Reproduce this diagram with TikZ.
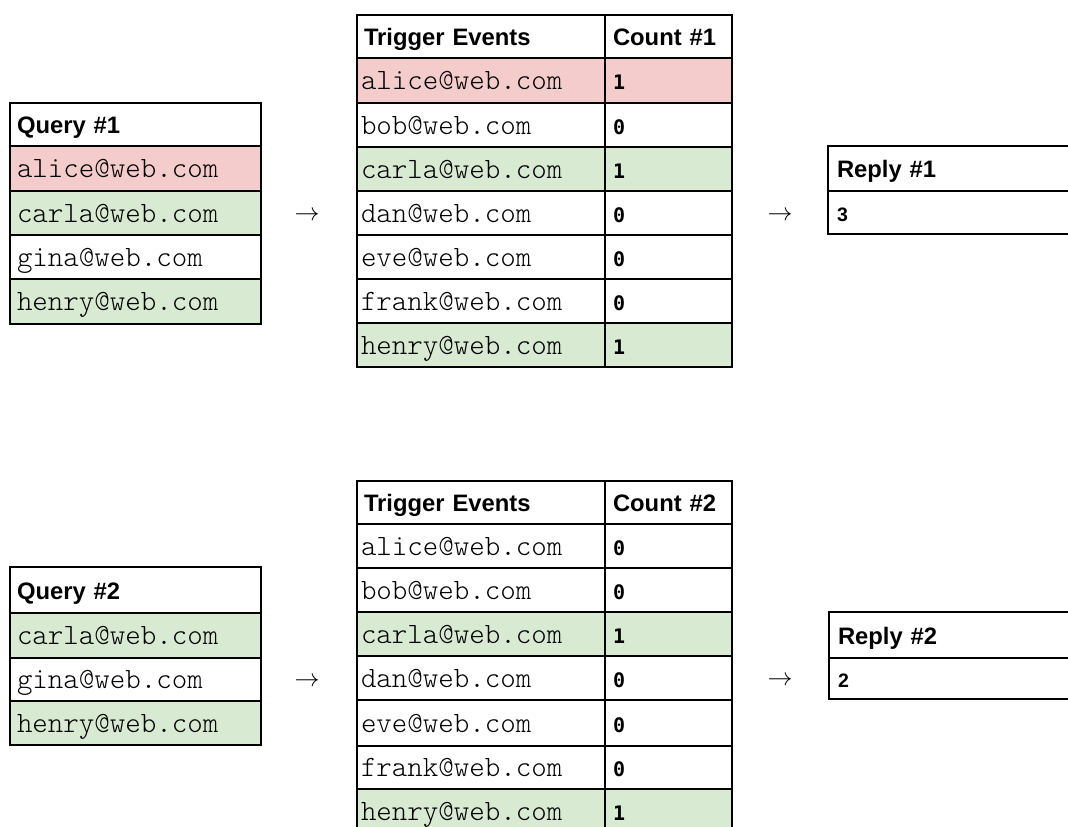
\documentclass[tikz,border=0pt]{standalone}
\usepackage{fontspec}
\newfontfamily\arialf{Liberation Sans}
\newfontfamily\cntf{DejaVu Sans Mono}
\newfontfamily\mailf{lmmonolt10-regular.otf}
\definecolor{redc}{HTML}{F4CCCC}
\definecolor{grnc}{HTML}{D9EAD3}
\tikzset{
 cell/.style={draw=black, line width=2pt, rectangle, anchor=north west, inner ysep=0pt, align=left, text height=24pt, text depth=6pt, fill=white},
 hdr/.style={font=\arialf\bfseries\fontsize{23.8}{24}\selectfont},
 mail/.style={font=\mailf\fontsize{29.5}{30}\selectfont},
 cnt/.style={font=\cntf\bfseries\fontsize{20}{20}\selectfont},
 rep/.style={font=\arialf\bfseries\fontsize{19.5}{20}\selectfont},
 qcol/.style={inner xsep=7pt, text width=237pt},
 tcolA/.style={inner xsep=4pt, text width=240pt},
 thA/.style={inner xsep=7pt, text width=234pt},
 tcolB/.style={inner xsep=8pt, text width=111pt},
 rcol/.style={inner xsep=9pt, text width=242pt},
 arr/.style={font=\fontsize{28}{28}\selectfont, inner sep=0pt},
}
\begin{document}
\begin{tikzpicture}[x=1pt,y=-1pt]
\useasboundingbox (0,0) rectangle (1068,827);
\clip (0,0) rectangle (1068,827);
% ---------- Query 1
\node[cell,qcol,hdr,minimum height=43pt] (q1h) at (9,102) {Query \#1};
\node[cell,qcol,mail,minimum height=45pt,fill=redc] (q1a) at (9,145) {alice@web.com};
\node[cell,qcol,mail,minimum height=44pt,fill=grnc] (q1c) at (9,190) {carla@web.com};
\node[cell,qcol,mail,minimum height=44pt] (q1g) at (9,234) {gina@web.com};
\node[cell,qcol,mail,minimum height=45pt,fill=grnc] (q1n) at (9,278) {henry@web.com};
% ---------- Trigger table 1
\node[cell,thA,hdr,minimum height=43pt] (t1h) at (356,14) {Trigger Events};
\node[cell,tcolB,hdr,minimum height=43pt] (c1h) at (604,14) {Count \#1};
\node[cell,tcolA,mail,minimum height=45pt,fill=redc] (t1a) at (356,57) {alice@web.com};
\node[cell,tcolB,cnt,minimum height=45pt,fill=redc] (c1a) at (604,57) {1};
\node[cell,tcolA,mail,minimum height=44pt] (t1b) at (356,102) {bob@web.com};
\node[cell,tcolB,cnt,minimum height=44pt] (c1b) at (604,102) {0};
\node[cell,tcolA,mail,minimum height=44pt,fill=grnc] (t1c) at (356,146) {carla@web.com};
\node[cell,tcolB,cnt,minimum height=44pt,fill=grnc] (c1c) at (604,146) {1};
\node[cell,tcolA,mail,minimum height=44pt] (t1d) at (356,190) {dan@web.com};
\node[cell,tcolB,cnt,minimum height=44pt] (c1d) at (604,190) {0};
\node[cell,tcolA,mail,minimum height=44pt] (t1e) at (356,234) {eve@web.com};
\node[cell,tcolB,cnt,minimum height=44pt] (c1e) at (604,234) {0};
\node[cell,tcolA,mail,minimum height=44pt] (t1f) at (356,278) {frank@web.com};
\node[cell,tcolB,cnt,minimum height=44pt] (c1f) at (604,278) {0};
\node[cell,tcolA,mail,minimum height=44pt,fill=grnc] (t1n) at (356,322) {henry@web.com};
\node[cell,tcolB,cnt,minimum height=44pt,fill=grnc] (c1n) at (604,322) {1};
% ---------- Reply 1
\node[cell,rcol,hdr,minimum height=45pt] (r1h) at (827,145) {Reply \#1};
\node[cell,rcol,rep,minimum height=43pt] (r1v) at (827,190) {3};
% ---------- arrows 1
\node[arr] (a1) at (307,216) {$\rightarrow$};
\node[arr] (b1) at (780,216) {$\rightarrow$};
% ---------- Query 2
\node[cell,qcol,hdr,minimum height=46pt] (q2h) at (9,566) {Query \#2};
\node[cell,qcol,mail,minimum height=45pt,fill=grnc] (q2c) at (9,612) {carla@web.com};
\node[cell,qcol,mail,minimum height=43pt] (q2g) at (9,657) {gina@web.com};
\node[cell,qcol,mail,minimum height=44pt,fill=grnc] (q2n) at (9,700) {henry@web.com};
% ---------- Trigger table 2
\node[cell,thA,hdr,minimum height=43pt] (t2h) at (356,480) {Trigger Events};
\node[cell,tcolB,hdr,minimum height=43pt] (c2h) at (604,480) {Count \#2};
\node[cell,tcolA,mail,minimum height=44pt] (t2a) at (356,523) {alice@web.com};
\node[cell,tcolB,cnt,minimum height=44pt] (c2a) at (604,523) {0};
\node[cell,tcolA,mail,minimum height=44pt] (t2b) at (356,567) {bob@web.com};
\node[cell,tcolB,cnt,minimum height=44pt] (c2b) at (604,567) {0};
\node[cell,tcolA,mail,minimum height=44pt,fill=grnc] (t2c) at (356,611) {carla@web.com};
\node[cell,tcolB,cnt,minimum height=44pt,fill=grnc] (c2c) at (604,611) {1};
\node[cell,tcolA,mail,minimum height=44pt] (t2d) at (356,655) {dan@web.com};
\node[cell,tcolB,cnt,minimum height=44pt] (c2d) at (604,655) {0};
\node[cell,tcolA,mail,minimum height=46pt] (t2e) at (356,699) {eve@web.com};
\node[cell,tcolB,cnt,minimum height=46pt] (c2e) at (604,699) {0};
\node[cell,tcolA,mail,minimum height=43pt] (t2f) at (356,745) {frank@web.com};
\node[cell,tcolB,cnt,minimum height=43pt] (c2f) at (604,745) {0};
\node[cell,tcolA,mail,minimum height=44pt,fill=grnc] (t2n) at (356,788) {henry@web.com};
\node[cell,tcolB,cnt,minimum height=44pt,fill=grnc] (c2n) at (604,788) {1};
% ---------- Reply 2
\node[cell,rcol,hdr,minimum height=46pt] (r2h) at (828,611) {Reply \#2};
\node[cell,rcol,rep,minimum height=41pt] (r2v) at (828,657) {2};
% ---------- arrows 2
\node[arr] (a2) at (307,682) {$\rightarrow$};
\node[arr] (b2) at (780,681) {$\rightarrow$};
\end{tikzpicture}
\end{document}
